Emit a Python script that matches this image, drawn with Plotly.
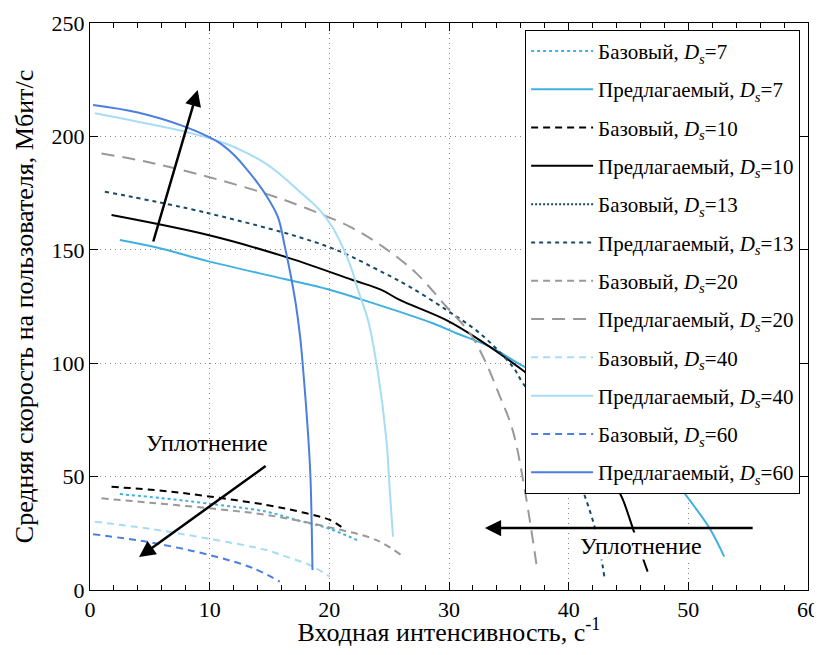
import plotly.graph_objects as go

FONT = "Liberation Serif"

# ---------------- data ----------------
base7_x = [2.49, 6.0, 9.73, 14.75, 17.5, 19.9, 22.54]
base7_y = [42.3, 40.5, 38.2, 34.5, 30.5, 27.2, 21.5]

prop7_x = [2.49, 6.0, 9.84, 16.27, 19.87, 22.8, 28.64, 30.62, 33.4, 36.16, 40.0, 44.0, 47.0, 49.27, 50.1, 51.78, 53.0]
prop7_y = [154.3, 150.5, 145.0, 137.1, 132.6, 127.9, 117.6, 113.2, 107.3, 98.8, 88.0, 74.0, 60.0, 45.5, 39.7, 27.2, 14.7]

base10_x = [1.8, 6.0, 9.73, 14.75, 18.09, 20.03, 21.29]
base10_y = [45.5, 43.8, 41.4, 37.5, 33.8, 30.9, 26.8]

prop10_x = [1.8, 9.87, 16.27, 21.95, 24.35, 25.88, 29.78, 32.57, 36.05, 38.0, 40.0, 42.0, 43.0, 44.0, 44.54, 45.5, 46.35, 46.6]
prop10_y = [165.3, 156.5, 147.0, 136.7, 132.3, 127.9, 119.0, 110.2, 97.3, 89.0, 80.0, 66.0, 57.0, 45.5, 39.7, 25.0, 11.8, 8.1]

base13_x = []
base13_y = []

prop13_x = [1.24, 9.84, 19.87, 24.63, 26.72, 29.78, 32.57, 35.32, 36.16, 38.0, 40.0, 41.17, 42.31, 43.0]
prop13_y = [175.6, 166.2, 151.4, 139.6, 133.7, 123.5, 113.2, 98.5, 91.3, 78.0, 60.0, 44.1, 25.1, 5.3]

base20_x = [0.96, 5.0, 10.0, 14.75, 20.03, 23.94, 26.0]
base20_y = [40.4, 38.5, 36.0, 33.1, 27.6, 22.0, 15.4]

prop20_x = [0.96, 5.0, 9.84, 14.6, 18.09, 21.7, 24.46, 27.28, 29.78, 31.73, 32.98, 34.2, 35.32, 36.4, 37.4]
prop20_y = [192.5, 188.5, 182.2, 174.9, 168.3, 160.2, 151.4, 139.6, 124.9, 113.3, 101.4, 86.0, 70.5, 42.0, 8.0]

base40_x = [0.4, 5.0, 9.73, 14.75, 16.4, 18.36, 20.03]
base40_y = [30.1, 27.0, 22.8, 17.6, 14.7, 11.0, 5.9]

prop40_x = [0.4, 4.0, 7.92, 11.26, 13.0, 14.6, 16.0, 17.36, 19.2, 20.2, 21.1, 21.8, 22.4, 23.23, 24.07, 24.77, 25.05, 25.32]
prop40_y = [210.2, 206.5, 202.1, 197.0, 193.0, 188.3, 182.8, 176.4, 167.5, 160.5, 151.4, 142.5, 132.3, 119.0, 95.5, 66.1, 44.1, 23.5]

base60_x = [0.26, 5.0, 10.0, 13.63, 15.86]
base60_y = [24.6, 21.0, 15.4, 9.6, 3.7]

prop60_x = [0.26, 4.0, 7.92, 9.87, 11.0, 12.0, 12.93, 14.0, 14.6, 15.69, 16.28, 16.8, 17.2, 17.55, 17.8, 18.2, 18.42, 18.59]
prop60_y = [213.8, 210.5, 204.3, 199.9, 196.5, 192.0, 186.6, 179.5, 175.0, 164.6, 151.4, 138.0, 126.0, 112.0, 98.0, 70.5, 50.0, 8.8]

x_ticks = [0, 10, 20, 30, 40, 50, 60]
y_ticks = [0, 50, 100, 150, 200, 250]

series = [
    ("Базовый", "7", base7_x, base7_y, "#3fb0e0", "3px,3px"),
    ("Предлагаемый", "7", prop7_x, prop7_y, "#3fb0e0", "solid"),
    ("Базовый", "10", base10_x, base10_y, "#000000", "7px,5px"),
    ("Предлагаемый", "10", prop10_x, prop10_y, "#000000", "solid"),
    ("Базовый", "13", base13_x, base13_y, "#184a68", "2px,2px"),
    ("Предлагаемый", "13", prop13_x, prop13_y, "#184a68", "4px,4px"),
    ("Базовый", "20", base20_x, base20_y, "#999999", "7px,5px"),
    ("Предлагаемый", "20", prop20_x, prop20_y, "#999999", "13px,8px"),
    ("Базовый", "40", base40_x, base40_y, "#a6dcf6", "7px,5px"),
    ("Предлагаемый", "40", prop40_x, prop40_y, "#a6dcf6", "solid"),
    ("Базовый", "60", base60_x, base60_y, "#4a7fdf", "7px,5px"),
    ("Предлагаемый", "60", prop60_x, prop60_y, "#4a7fdf", "solid"),
]

fig = go.Figure()
for i, (kind, ds, xs, ys, col, dash) in enumerate(series):
    fig.add_trace(go.Scatter(
        x=xs if xs else [None], y=ys if ys else [None],
        mode="lines",
        name=f"{kind}, <i>D</i><sub><i>s</i></sub>={ds}",
        line=dict(color=col, width=2, dash=dash, shape="spline", smoothing=1.0),
        legendgroup=f"g{i}",
    ))

arrows = [
    (9.0, 220.5, 5.25, 153.0),
    (4.1, 14.5, 14.8, 55.1),
    (33.0, 27.3, 55.5, 27.3),
]
for hx, hy, tx, ty in arrows:
    fig.add_annotation(
        x=hx, y=hy, ax=tx, ay=ty, xref="x", yref="y", axref="x", ayref="y",
        showarrow=True, arrowhead=2, arrowsize=1.3, arrowwidth=2.5,
        arrowcolor="#000000", text="",
    )

fig.add_annotation(x=9.77, y=64.8, xref="x", yref="y", text="Уплотнение",
                   showarrow=False, font=dict(family=FONT, size=24, color="#000"))
fig.add_annotation(x=46.06, y=19.3, xref="x", yref="y", text="Уплотнение",
                   showarrow=False, bgcolor="#ffffff", borderpad=0,
                   font=dict(family=FONT, size=24, color="#000"))

axis_common = dict(
    showline=True, linecolor="#000", linewidth=1, mirror="allticks",
    ticks="inside", ticklen=8, tickcolor="#000",
    showgrid=True, gridcolor="#888888", griddash="1px,4px", gridwidth=1,
    zeroline=False, automargin=False, ticklabeloverflow="allow",
    tickfont=dict(family=FONT, size=22, color="#000"),
)

fig.update_xaxes(
    range=[0, 60], tickvals=x_ticks, **axis_common,
    minor=dict(dtick=2, ticks="inside", ticklen=5, tickcolor="#000", showgrid=False),
    title=dict(text="Входная интенсивность, с<sup>-1</sup>", font=dict(family=FONT, size=26, color="#000"), standoff=13),
)
fig.update_yaxes(
    range=[0, 250], tickvals=y_ticks, **axis_common,
    title=dict(text="Средняя скорость на пользователя, Мбит/с", font=dict(family=FONT, size=26, color="#000"), standoff=10),
)

# the page body adds an 8px offset, so the figure is sized/margined to place
# the plot area at the reference's pixel position in the 822x655 window
fig.update_layout(
    width=814, height=639,
    margin=dict(l=82, r=14, t=15, b=57),
    paper_bgcolor="#ffffff", plot_bgcolor="#ffffff",
    font=dict(family=FONT, color="#000"),
    legend=dict(
        x=0.606, y=0.988, xanchor="left", yanchor="top",
        bgcolor="#ffffff", bordercolor="#000", borderwidth=1,
        font=dict(family=FONT, size=21, color="#000"),
        tracegroupgap=8, itemwidth=62,
    ),
    showlegend=True,
)

fig.write_html("out.html")
